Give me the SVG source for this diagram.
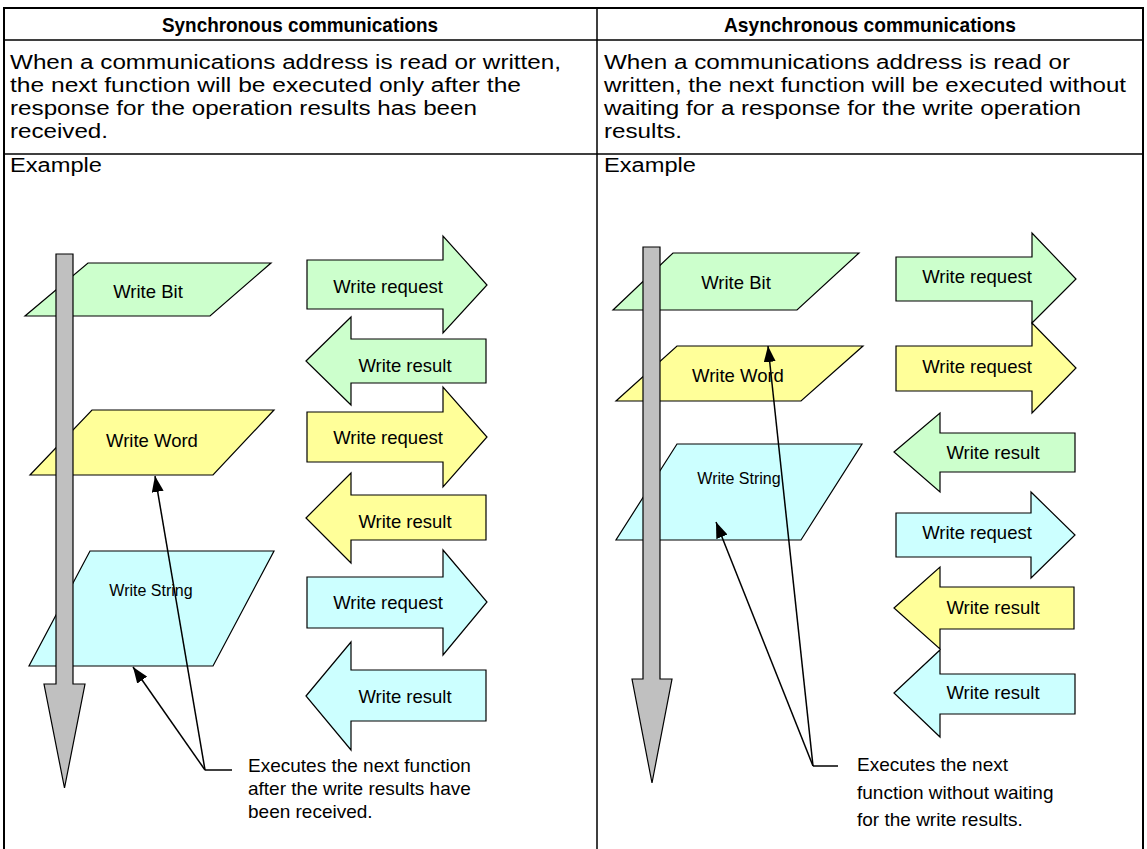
<svg xmlns="http://www.w3.org/2000/svg" width="1147" height="849" viewBox="0 0 1147 849">
<defs>
<style>
.t{font-family:"Liberation Sans",Arial,sans-serif;fill:#000}
.hd{font-size:21px;font-weight:bold;text-anchor:middle}
.bd{font-size:20px}
.lb{font-size:18.5px;text-anchor:middle}
.ls{font-size:16px;text-anchor:middle}
.an{font-size:19px}
.sh{stroke:#000;stroke-width:1.2;stroke-linejoin:miter}
.g{fill:#ccffcc}.y{fill:#ffff99}.c{fill:#ccffff}.gr{fill:#c0c0c0}
.ln{stroke:#000;stroke-width:1.5;fill:none}
.tb{stroke:#000;fill:none}
</style>
<marker id="ah" viewBox="0 0 16 12" refX="16" refY="6" markerWidth="16" markerHeight="12" markerUnits="userSpaceOnUse" orient="auto">
<path d="M0,0 L16,6 L0,12 z" fill="#000"/>
</marker>
</defs>
<rect width="1147" height="849" fill="#fff"/>
<g id="table">
<path class="tb" stroke-width="2" d="M4,860 V8 H1143 V860"/>
<path class="tb" stroke-width="1.5" d="M4,40 H1143 M4,154 H1143 M597,8 V860"/>
<text class="t hd" x="300" y="32" textLength="276" lengthAdjust="spacingAndGlyphs">Synchronous communications</text>
<text class="t hd" x="870" y="32" textLength="292" lengthAdjust="spacingAndGlyphs">Asynchronous communications</text>
<text class="t bd" x="10" y="69" textLength="551" lengthAdjust="spacingAndGlyphs">When a communications address is read or written,</text>
<text class="t bd" x="10" y="92" textLength="511" lengthAdjust="spacingAndGlyphs">the next function will be executed only after the</text>
<text class="t bd" x="10" y="115" textLength="467" lengthAdjust="spacingAndGlyphs">response for the operation results has been</text>
<text class="t bd" x="10" y="138" textLength="98" lengthAdjust="spacingAndGlyphs">received.</text>
<text class="t bd" x="604" y="69" textLength="466" lengthAdjust="spacingAndGlyphs">When a communications address is read or</text>
<text class="t bd" x="604" y="92" textLength="522" lengthAdjust="spacingAndGlyphs">written, the next function will be executed without</text>
<text class="t bd" x="604" y="115" textLength="477" lengthAdjust="spacingAndGlyphs">waiting for a response for the write operation</text>
<text class="t bd" x="604" y="138" textLength="78" lengthAdjust="spacingAndGlyphs">results.</text>
<text class="t bd" x="10" y="172" textLength="92" lengthAdjust="spacingAndGlyphs">Example</text>
<text class="t bd" x="604" y="172" textLength="92" lengthAdjust="spacingAndGlyphs">Example</text>
</g>
<g id="sync-write-bit"><polygon class="sh g" points="88,263 271,263 210,316 25,316"/><text class="t lb" x="148" y="298">Write Bit</text></g>
<g id="sync-write-word"><polygon class="sh y" points="92,410 274,410 213,475 30,475"/><text class="t lb" x="152" y="447">Write Word</text></g>
<g id="sync-write-string"><polygon class="sh c" points="90,551 274,551 213,666 29,666"/><text class="t ls" x="151" y="596">Write String</text></g>
<g id="sync-flow"><polygon class="sh gr" points="56,254 73,254 73,684 85,684 64.5,788 44,684 56,684"/></g>
<g id="sync-req1"><polygon class="sh g" points="307,260 443,260 443,236 487,285 443,333 443,309 307,309"/><text class="t lb" x="388" y="293">Write request</text></g>
<g id="sync-res1"><polygon class="sh g" points="306,361 351,317 351,339 486,339 486,383 351,383 351,405"/><text class="t lb" x="405" y="372">Write result</text></g>
<g id="sync-req2"><polygon class="sh y" points="307,412 443,412 443,387 487,437 443,487 443,462 307,462"/><text class="t lb" x="388" y="444">Write request</text></g>
<g id="sync-res2"><polygon class="sh y" points="306,518 351,473 351,495 486,495 486,540 351,540 351,563"/><text class="t lb" x="405" y="528">Write result</text></g>
<g id="sync-req3"><polygon class="sh c" points="307,577 443,577 443,550 487,602 443,655 443,628 307,628"/><text class="t lb" x="388" y="609">Write request</text></g>
<g id="sync-res3"><polygon class="sh c" points="306,696 351,642 351,670 486,670 486,721 351,721 351,750"/><text class="t lb" x="405" y="703">Write result</text></g>
<g id="sync-note"><text class="t an" x="248" y="772">Executes the next function</text><text class="t an" x="248" y="795">after the write results have</text><text class="t an" x="248" y="818">been received.</text></g>

<g id="async-write-bit"><polygon class="sh g" points="673,253 859,253 797,310 613,310"/><text class="t lb" x="736" y="289">Write Bit</text></g>
<g id="async-write-word"><polygon class="sh y" points="677,346 863,346 801,401 616,401"/><text class="t lb" x="738" y="382">Write Word</text></g>
<g id="async-write-string"><polygon class="sh c" points="677,444 862,444 801,540 616,540"/><text class="t ls" x="739" y="484">Write String</text></g>
<g id="async-flow"><polygon class="sh gr" points="643,247 660,247 660,679 672,679 652,783 632,679 643,679"/></g>
<g id="async-req1"><polygon class="sh g" points="896,257 1032,257 1032,233 1076,279 1032,323 1032,301 896,301"/><text class="t lb" x="977" y="283">Write request</text></g>
<g id="async-req2"><polygon class="sh y" points="896,346 1032,346 1032,323 1076,368 1032,413 1032,391 896,391"/><text class="t lb" x="977" y="373">Write request</text></g>
<g id="async-res1"><polygon class="sh g" points="894,452 940,413 940,433 1075,433 1075,472 940,472 940,492"/><text class="t lb" x="993" y="459">Write result</text></g>
<g id="async-req3"><polygon class="sh c" points="896,513 1031,513 1031,492 1075,535 1031,578 1031,557 896,557"/><text class="t lb" x="977" y="539">Write request</text></g>
<g id="async-res2"><polygon class="sh y" points="894,608 940,567 940,587 1074,587 1074,629 940,629 940,649"/><text class="t lb" x="993" y="614">Write result</text></g>
<g id="async-res3"><polygon class="sh c" points="894,693 940,650 940,674 1075,674 1075,714 940,714 940,737"/><text class="t lb" x="993" y="699">Write result</text></g>
<g id="async-note"><text class="t an" x="857" y="771">Executes the next</text><text class="t an" x="857" y="799">function without waiting</text><text class="t an" x="857" y="826">for the write results.</text></g>

<g id="connectors">
<path class="ln" d="M232,770 H205"/>
<path class="ln" d="M205,770 L155,476" marker-end="url(#ah)"/>
<path class="ln" d="M205,770 L133,667" marker-end="url(#ah)"/>
<path class="ln" d="M838,766 H813"/>
<path class="ln" d="M813,766 L768,346" marker-end="url(#ah)"/>
<path class="ln" d="M813,766 L716,522" marker-end="url(#ah)"/>
</g>
</svg>
